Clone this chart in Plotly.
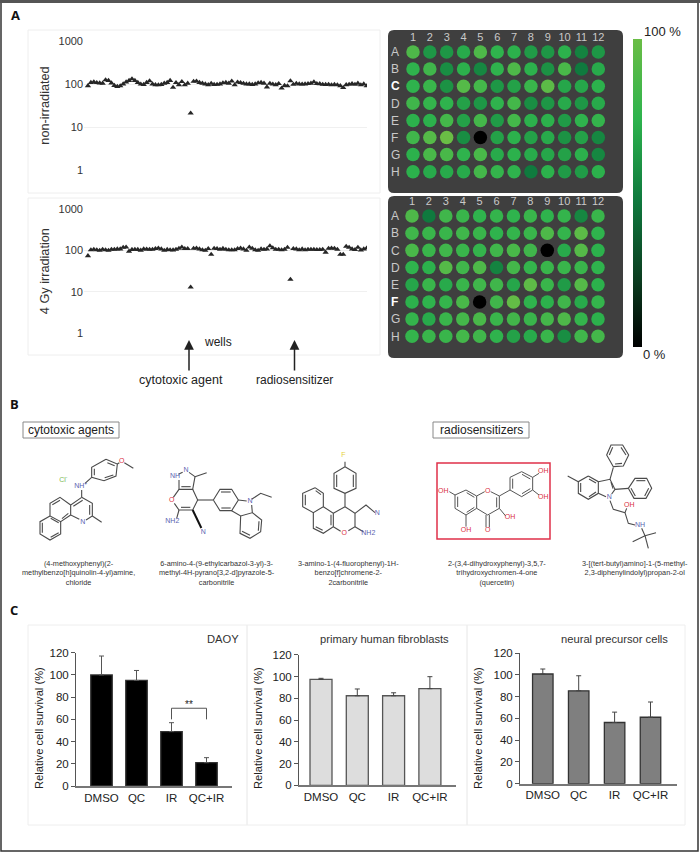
#!/usr/bin/env python3
# -*- coding: utf-8 -*-
"""Three-panel screening figure: 96-well scatter + plate maps, compounds, survival bars."""

import plotly.graph_objects as go

W, H = 700, 858
FONT = "Liberation Sans, Arial"

# ── panel A data ────────────────────────────────────────────────────────────
non_irradiated = [
    91, 108, 112, 107, 105, 104, 124, 120, 105, 92, 87, 90,
    100, 111, 120, 131, 120, 108, 99, 97, 108, 118, 100, 96,
    95, 97, 104, 108, 120, 83, 107, 96, 113, 95, 104, 21,
    115, 116, 108, 104, 100, 96, 103, 97, 98, 100, 106, 108,
    104, 116, 95, 110, 107, 103, 100, 100, 97, 100, 106, 108,
    104, 85, 103, 99, 96, 102, 80, 92, 90, 118, 98, 103,
    100, 99, 100, 102, 104, 112, 102, 101, 98, 97, 98, 95,
    97, 95, 91, 82, 96, 98, 102, 98, 104, 95, 100, 90,
]
irradiated_4gy = [
    74, 103, 106, 103, 100, 106, 103, 100, 106, 106, 108, 108,
    118, 120, 95, 105, 106, 105, 101, 108, 107, 106, 106, 110,
    113, 108, 100, 105, 103, 102, 106, 112, 120, 110, 110, 13,
    112, 113, 108, 103, 100, 110, 80, 112, 110, 106, 111, 106,
    103, 103, 103, 110, 113, 108, 100, 120, 112, 103, 100, 108,
    106, 108, 128, 115, 106, 106, 103, 106, 118, 20, 110, 108,
    103, 108, 103, 106, 106, 106, 104, 104, 106, 90, 112, 113,
    112, 106, 80, 80, 125, 118, 108, 104, 118, 102, 108, 113,
]
log_ticks = [1, 10, 100, 1000]

plate_cols = [str(c) for c in range(1, 13)]
plate_rows = ["A", "B", "C", "D", "E", "F", "G", "H"]
plate_no_ir = [
    [88, 61, 61, 70, 88, 75, 73, 63, 61, 73, 52, 61],
    [75, 82, 57, 73, 54, 75, 88, 73, 59, 86, 48, 70],
    [75, 79, 59, 91, 84, 61, 66, 79, 94, 68, 68, 73],
    [82, 77, 75, 66, 61, 75, 84, 57, 61, 70, 61, 70],
    [73, 73, 84, 66, 84, 63, 84, 73, 73, 63, 75, 77],
    [82, 91, 100, 57, 0, 66, 73, 66, 70, 59, 66, 54],
    [73, 86, 86, 75, 86, 70, 73, 70, 68, 66, 73, 54],
    [73, 70, 70, 70, 84, 77, 75, 48, 73, 63, 63, 73],
]
plate_4gy = [
    [88, 48, 82, 79, 75, 77, 75, 79, 75, 77, 54, 79],
    [82, 79, 79, 82, 79, 75, 77, 79, 88, 77, 94, 75],
    [86, 79, 82, 79, 77, 82, 86, 82, 0, 70, 91, 73],
    [75, 73, 91, 82, 88, 52, 84, 77, 79, 79, 79, 75],
    [68, 79, 70, 79, 82, 82, 68, 95, 79, 63, 91, 73],
    [73, 75, 77, 86, 0, 82, 97, 75, 73, 82, 70, 77],
    [77, 70, 79, 84, 86, 79, 83, 79, 84, 88, 77, 73],
    [77, 79, 79, 84, 82, 75, 66, 70, 79, 57, 82, 84],
]

# ── panel C data ────────────────────────────────────────────────────────────
treatments = ["DMSO", "QC", "IR", "QC+IR"]
daoy_survival = [100, 95, 49, 21]
daoy_err = [17, 9, 8, 4.5]
fibro_survival = [97.3, 82.3, 82.3, 88.8]
fibro_err = [1, 6.2, 2.7, 11]
npc_survival = [100.7, 85.3, 56.2, 61]
npc_err = [4.6, 13.8, 9.5, 14]
signif_x = [2, 2, 3, 3]
signif_y = [60, 70, 70, 60]

# ── panel B line drawings: polylines in pixels, split per compound ──────────
mol1 = [
    [(318, 208), (352, 222), (348, 258), (312, 272), (275, 262), (275, 232), (318, 208)],
    [(322, 218), (344, 227)], [(340, 255), (314, 263)], [(283, 256), (283, 236)],
    [(352, 222), (358, 218)], [(373, 218), (400, 235)], [(275, 262), (255, 280)],
    [(245, 300), (245, 322)],
    [(245, 322), (277, 340), (277, 378), (258, 390)], [(238, 388), (212, 375), (212, 345), (245, 322)],
    [(269, 345), (269, 374)], [(248, 331), (220, 349)],
    [(277, 378), (305, 397)],
    [(212, 345), (180, 322), (150, 340), (150, 378), (182, 395), (212, 375)],
    [(180, 331), (157, 344)], [(205, 370), (186, 386)],
    [(150, 378), (120, 395), (120, 432), (150, 450), (182, 432), (182, 395)],
    [(127, 398), (127, 428)], [(152, 442), (176, 428)], [(152, 385), (176, 398)],
]
mol2 = [
    [(537, 270), (537, 298), (578, 298), (585, 260), (567, 247)], [(548, 247), (535, 253)],
    [(544, 290), (572, 290)], [(585, 260), (620, 248)],
    [(537, 298), (520, 322)], [(578, 298), (593, 330), (578, 360), (537, 360), (523, 340)],
    [(571, 352), (543, 352)], [(537, 360), (530, 385)],
    [(593, 330), (640, 330)],
    [(640, 330), (660, 298), (695, 298), (715, 330), (695, 362), (660, 362), (640, 330)],
    [(663, 306), (692, 306)], [(664, 354), (692, 354)],
    [(715, 330), (740, 333)], [(755, 345), (757, 368), (722, 378), (695, 362)],
    [(755, 328), (782, 310), (815, 322)],
    [(757, 368), (785, 390), (782, 425), (750, 445), (720, 430), (722, 378)],
    [(777, 394), (775, 422)], [(750, 436), (726, 424)],
]
mol2_nitrile = [[(578, 360), (604, 414)]]
mol3 = [
    [(1035, 230), (1068, 250), (1068, 295), (1035, 310), (1002, 295), (1002, 250), (1035, 230)],
    [(1010, 254), (1010, 291)], [(1060, 254), (1060, 291)],
    [(1035, 215), (1035, 230)], [(1035, 310), (1035, 350)],
    [(1035, 350), (1000, 370)], [(1035, 350), (1065, 370), (1065, 410), (1045, 422)],
    [(1000, 410), (1022, 424)],
    [(945, 293), (970, 310), (970, 350), (940, 368), (908, 350), (908, 310), (945, 293)],
    [(916, 314), (916, 346)], [(947, 302), (963, 314)],
    [(970, 350), (1000, 370), (1000, 410), (970, 430), (940, 415), (940, 368)],
    [(993, 374), (993, 406)], [(968, 421), (947, 410)],
    [(1065, 370), (1098, 345), (1125, 368)], [(1065, 410), (1090, 425)],
]
mol4 = [
    [(328, 305), (345, 315), (378, 300), (410, 318), (410, 355), (378, 375), (345, 355), (345, 315)],
    [(353, 320), (353, 351)], [(380, 308), (403, 322)], [(380, 367), (403, 352)],
    [(378, 375), (378, 410)],
    [(410, 318), (434, 305)], [(452, 305), (478, 318), (478, 355), (443, 375), (410, 355)],
    [(470, 322), (470, 352)], [(438, 375), (438, 412)], [(448, 375), (448, 412)],
    [(478, 355), (497, 378)], [(478, 318), (510, 300)],
    [(510, 300), (510, 262), (545, 245), (578, 262), (578, 300), (545, 320), (510, 300)],
    [(518, 296), (518, 266)], [(546, 253), (571, 267)], [(571, 296), (546, 311)],
    [(578, 262), (597, 250)], [(578, 300), (597, 315)],
]
mol5 = [
    [(745, 258), (775, 275), (775, 310), (745, 328), (715, 310), (715, 275), (745, 258)],
    [(722, 279), (722, 306)], [(747, 267), (768, 279)], [(747, 320), (768, 306)],
    [(715, 275), (683, 258)],
    [(775, 275), (810, 268), (825, 298), (815, 312)], [(798, 320), (775, 310)], [(813, 276), (819, 296)],
    [(810, 268), (820, 232)],
    [(820, 230), (800, 195), (813, 165), (848, 165), (866, 195), (850, 228), (820, 230)],
    [(808, 195), (818, 172)], [(843, 172), (858, 195)], [(846, 220), (825, 222)],
    [(825, 298), (865, 295)],
    [(865, 295), (885, 265), (920, 265), (935, 295), (918, 325), (882, 325), (865, 295)],
    [(889, 272), (916, 272)], [(926, 295), (914, 318)], [(886, 318), (873, 295)],
    [(810, 332), (820, 358), (855, 368), (865, 400), (885, 405)],
    [(855, 368), (860, 355)], [(905, 415), (915, 437)],
    [(948, 428), (915, 437), (878, 455)], [(915, 437), (925, 475)],
]
# text labels in the drawings: (x, y, text, colour, x offset, y offset)
mol_labels = [
    (190, 272, "Cl<sup>-</sup>", "#7cb957", 0, 390), (242, 290, "NH<sup>+</sup>", "#5b5fb0", 0, 390),
    (248, 397, "N", "#5b5fb0", 0, 390), (365, 215, "O", "#d9303f", 0, 390),
    (525, 260, "NH", "#5b5fb0", 0, 390), (558, 240, "N", "#5b5fb0", 0, 390),
    (515, 330, "O", "#d9303f", 0, 390), (517, 393, "NH2", "#5b5fb0", 0, 390),
    (610, 427, "N", "#5b5fb0", 0, 390), (750, 335, "N", "#5b5fb0", 0, 390),
    (1030, 195, "F", "#e6d23a", 0, 390), (1033, 430, "O", "#d9303f", 0, 390),
    (1132, 370, "N", "#5b5fb0", 0, 390), (1105, 430, "NH2", "#5b5fb0", 0, 390),
    (310, 303, "OH", "#d9303f", 340, 390), (378, 420, "OH", "#d9303f", 340, 390),
    (443, 303, "O", "#d9303f", 340, 390), (443, 422, "O", "#d9303f", 340, 390),
    (510, 381, "OH", "#d9303f", 340, 390), (610, 245, "OH", "#d9303f", 340, 390),
    (610, 322, "OH", "#d9303f", 340, 390),
    (808, 322, "N", "#5b5fb0", 340, 390), (868, 345, "OH", "#d9303f", 340, 390),
    (900, 405, "NH", "#5b5fb0", 340, 390),
]


def fx(px):
    return px / W


def fy(px):
    return 1 - px / H


def dom_x(p0, p1):
    return [fx(p0), fx(p1)]


def dom_y(p_top, p_bottom):
    return [fy(p_bottom), fy(p_top)]


def label(x, y, text, size=12, color="#222222", **kw):
    kw.setdefault("yanchor", "middle")
    return dict(x=fx(x), y=fy(y), xref="paper", yref="paper", text=text, showarrow=False, xanchor="center",
                font=dict(size=size, color=color, family=kw.pop("family", FONT)), **kw)


def frame(x0, y0, x1, y1, color="#eeeeee", width=1):
    return dict(type="rect", xref="paper", yref="paper", x0=fx(x0), x1=fx(x1), y0=fy(y0), y1=fy(y1),
                line=dict(color=color, width=width), layer="below")


def rounded(x0, y0, x1, y1, r=6):
    kx, ky = r / W, r / H
    a, b, c, d = fx(x0), fx(x1), fy(y0), fy(y1)
    path = (f"M {a + kx} {c} L {b - kx} {c} Q {b} {c} {b} {c - ky} L {b} {d + ky} Q {b} {d} {b - kx} {d} "
            f"L {a + kx} {d} Q {a} {d} {a} {d + ky} L {a} {c - ky} Q {a} {c} {a + kx} {c} Z")
    return dict(type="path", xref="paper", yref="paper", path=path,
                fillcolor="#3f3f3f", line=dict(width=0), layer="below")


def polylines(mols, dx, dy):
    xs, ys = [], []
    for line in mols:
        for px, py in line:
            xs.append(px / 3 + dx)
            ys.append(py / 3 + dy)
        xs.append(None)
        ys.append(None)
    return xs, ys


fig = go.Figure()
layout_axes = {}

# ── A: well scatter panels ──────────────────────────────────────────────────
scatter_panels = [
    (non_irradiated, "non-irradiated", 41, 170, "", ""),
    (irradiated_4gy, "4 Gy irradiation", 209, 333.3, "2", "2"),
]
for values, title, top, bottom, xn, yn in scatter_panels:
    fig.add_trace(go.Scatter(
        x=list(range(len(values))), y=values, mode="markers",
        marker=dict(symbol="triangle-up", size=5.5, color="#262626"),
        xaxis=f"x{xn}", yaxis=f"y{yn}", hoverinfo="y",
    ))
    layout_axes[f"xaxis{xn}"] = dict(domain=dom_x(84, 367), range=[-1.35, 95.1], visible=False,
                                     anchor=f"y{yn}")
    layout_axes[f"yaxis{yn}"] = dict(
        domain=dom_y(top, bottom), type="log", range=[0, 3], tickvals=log_ticks,
        ticktext=[str(t) for t in log_ticks], gridcolor="#f0f0f0", gridwidth=1,
        zeroline=False, showline=False, ticks="", anchor=f"x{xn}",
        tickfont=dict(size=11, color="#333333", family=FONT),
        title=dict(text=title, font=dict(size=12.7, color="#333333", family=FONT), standoff=6),
    )

# ── A: plate maps ───────────────────────────────────────────────────────────
plate_panels = [
    (plate_no_ir, 30, 193, 413, 598.3, 52, 171.7, "3", "C", 0),
    (plate_4gy, 196, 358, 412, 598, 216, 336.3, "4", "F", -2),
]
for plate, top, bottom, c1, c12, r1, r8, an, bright, num_off in plate_panels:
    xs = [c + 1 for row in plate for c in range(len(row))]
    ys = [r + 1 for r, row in enumerate(plate) for _ in row]
    cs = [v for row in plate for v in row]
    fig.add_trace(go.Scatter(
        x=xs, y=ys, mode="markers", xaxis=f"x{an}", yaxis=f"y{an}", hoverinfo="text",
        text=[f"{v} %" for v in cs],
        marker=dict(size=13.5, color=cs, coloraxis="coloraxis", line=dict(width=0)),
    ))
    sx = (c12 - c1) / 11
    sy = (r8 - r1) / 7
    layout_axes[f"xaxis{an}"] = dict(
        domain=dom_x(388, 623), range=[1 - (c1 - 388) / sx, 12 + (623 - c12) / sx],
        tickvals=list(range(1, 13)), ticktext=plate_cols, side="top", ticklabelposition="inside",
        ticklabelstandoff=num_off,
        showgrid=False, zeroline=False, showline=False, ticks="", anchor=f"y{an}",
        tickfont=dict(size=11, color="#c9c9c9", family=FONT),
    )
    layout_axes[f"yaxis{an}"] = dict(
        domain=dom_y(top, bottom), range=[8 + (bottom - r8) / sy, 1 - (r1 - top) / sy],
        tickvals=list(range(1, 9)),
        ticktext=[f'<span style="color:white"><b>{r}</b></span>' if r == bright else r for r in plate_rows],
        ticklabelposition="inside", showgrid=False, zeroline=False, showline=False, ticks="",
        anchor=f"x{an}", tickfont=dict(size=12, color="#c9c9c9", family=FONT),
    )

# ── C: survival bars ────────────────────────────────────────────────────────
bar_panels = [
    (daoy_survival, daoy_err, "#000000", "#333333", "#555555", 76, 232, 101.5, 35, 652.7, 786, 21.5, "6"),
    (fibro_survival, fibro_err, "#dddddd", "#555555", "#444444", 299, 456, 321, 36.3, 654.7, 785.3, 22, "7"),
    (npc_survival, npc_err, "#7f7f7f", "#333333", "#444444", 520, 676.7, 542.8, 35.9, 653, 783.7, 20.5, "8"),
]
for vals, errs, fill, edge, err_c, x0, x1, c0, step, top, bottom, bw, an in bar_panels:
    fig.add_trace(go.Bar(
        x=list(range(len(treatments))), y=vals, width=bw / step,
        marker=dict(color=fill, line=dict(color=edge, width=1.3)),
        error_y=dict(type="data", array=errs, symmetric=False, arrayminus=[0] * len(errs),
                     color=err_c, thickness=1, width=2.5),
        xaxis=f"x{an}", yaxis=f"y{an}",
    ))
    layout_axes[f"xaxis{an}"] = dict(
        domain=dom_x(x0, x1), range=[(x0 - c0) / step, (x1 - c0) / step],
        tickvals=list(range(len(treatments))), ticktext=treatments, showgrid=False, zeroline=False,
        showline=True, linecolor="#777777", linewidth=1.5, ticks="", anchor=f"y{an}",
        tickfont=dict(size=11.5, color="#222222", family=FONT),
    )
    layout_axes[f"yaxis{an}"] = dict(
        domain=dom_y(top, bottom), range=[0, 120], tickvals=[0, 20, 40, 60, 80, 100, 120],
        showgrid=False, zeroline=False, showline=True, linecolor="#555555", linewidth=1,
        ticks="outside", ticklen=4, tickcolor="#555555", anchor=f"x{an}",
        tickfont=dict(size=11.5, color="#222222", family=FONT),
    )

fig.add_trace(go.Scatter(x=signif_x, y=signif_y, mode="lines", line=dict(color="#555555", width=1),
                         xaxis="x6", yaxis="y6", hoverinfo="skip"))

# ── B: line drawings on a full-page pixel overlay ───────────────────────────
layout_axes["xaxis9"] = dict(domain=[0, 1], range=[0, W], visible=False, anchor="y9")
layout_axes["yaxis9"] = dict(domain=[0, 1], range=[H, 0], visible=False, anchor="x9")
bond_xs, bond_ys = [], []
for mol, dx in ((mol1, 0), (mol2, 0), (mol3, 0), (mol5, 340)):
    xs, ys = polylines(mol, dx, 390)
    bond_xs += xs
    bond_ys += ys
fig.add_trace(go.Scatter(x=bond_xs, y=bond_ys, mode="lines", line=dict(color="#4a4a4a", width=1.1),
                         xaxis="x9", yaxis="y9", hoverinfo="skip"))
xs, ys = polylines(mol4, 340, 390)
fig.add_trace(go.Scatter(x=xs, y=ys, mode="lines", line=dict(color="#555555", width=1),
                         xaxis="x9", yaxis="y9", hoverinfo="skip"))
xs, ys = polylines(mol2_nitrile, 0, 390)
fig.add_trace(go.Scatter(x=xs, y=ys, mode="lines", line=dict(color="#111111", width=2),
                         xaxis="x9", yaxis="y9", hoverinfo="skip"))
fig.add_trace(go.Scatter(
    x=[m[0] / 3 + m[4] for m in mol_labels], y=[m[1] / 3 + m[5] for m in mol_labels],
    text=[m[2] for m in mol_labels], mode="text",
    textfont=dict(size=7, color=[m[3] for m in mol_labels], family=FONT),
    xaxis="x9", yaxis="y9", hoverinfo="skip",
))

# ── page furniture ──────────────────────────────────────────────────────────
shapes = [
    dict(type="rect", xref="paper", yref="paper", x0=fx(1), x1=fx(698), y0=fy(1), y1=fy(851),
         line=dict(color="#333333", width=1.5)),
    dict(type="rect", xref="paper", yref="paper", x0=0, x1=1, y0=fy(3), y1=1,
         fillcolor="#555555", line=dict(width=0)),
    frame(28, 30, 380, 193), frame(28, 198, 380, 355),
    rounded(388, 30, 623, 193), rounded(388, 196, 623, 358),
    frame(23, 422, 119, 438, "#888888"), frame(433, 422, 529, 438, "#888888"),
    frame(437, 463, 550, 539, "#e0304a", 1.5),
    frame(28, 625, 247, 825), frame(247, 625, 467, 825), frame(467, 625, 685, 825),
]

OPEN = "Open Sans, Arial"
annotations = [
    label(15, 15, "<b>A</b>", 13, "#111111", family=OPEN),
    label(14, 404, "<b>B</b>", 13, "#111111", family=OPEN),
    label(14, 610, "<b>C</b>", 13, "#111111", family=OPEN),
    label(218, 342, "wells", 12),
    label(181, 380, "cytotoxic agent", 12.5),
    label(294, 380, "radiosensitizer", 12),
    label(662, 31.5, "100 %", 13),
    label(654, 355, "0 %", 13),
    label(71, 430, "cytotoxic agents", 12),
    label(481, 430, "radiosensitizers", 12),
    label(223, 639, "DAOY", 11.2, "#333333"),
    label(384, 639, "primary human fibroblasts", 11.2, "#333333"),
    label(614, 639, "neural precursor cells", 11.2, "#333333"),
    label(189, 704, "**", 10),
]
# y titles of the bar panels sit below the axis centre in the figure
for title_x in (39, 258, 478):
    annotations.append(label(title_x, 728, "Relative cell survival (%)", 11.2, textangle=-90))
for x_tip in (189, 294.5):
    annotations.append(dict(x=fx(x_tip), y=fy(340), xref="paper", yref="paper", ax=0, ay=32,
                            axref="pixel", ayref="pixel", text="", showarrow=True, arrowhead=2,
                            arrowsize=1.3, arrowwidth=1.5, arrowcolor="#222222"))

compound_names = [
    (78, 562, "(4-methoxyphenyl)(2-<br>methylbenzo[h]quinolin-4-yl)amine,<br>chloride"),
    (217, 562, "6-amino-4-(9-ethylcarbazol-3-yl)-3-<br>methyl-4H-pyrano[3,2-d]pyrazole-5-<br>carbonitrile"),
    (348, 562, "3-amino-1-(4-fluorophenyl)-1H-<br>benzo[f]chromene-2-<br>2carbonitrile"),
    (497, 562, "2-(3,4-dihydroxyphenyl)-3,5,7-<br>trihydroxychromen-4-one<br>(quercetin)"),
    (635, 562, "3-[(tert-butyl)amino]-1-(5-methyl-<br>2,3-diphenylindolyl)propan-2-ol"),
]
for nx, ny, name in compound_names:
    annotations.append(label(nx, ny - 5, name, 7.3, "#333333", yanchor="top", align="center"))

fig.update_layout(
    width=W, height=H, margin=dict(l=0, r=0, t=0, b=0, autoexpand=False), showlegend=False,
    paper_bgcolor="white", plot_bgcolor="rgba(0,0,0,0)", barmode="overlay",
    font=dict(family=FONT), shapes=shapes, annotations=annotations,
    coloraxis=dict(
        cmin=0, cmax=100,
        colorscale=[[0, "#000000"], [0.22, "#0b3d20"], [0.48, "#0f7a3e"], [0.74, "#2db34d"], [1, "#6abd45"]],
        colorbar=dict(x=fx(633.3), xanchor="left", y=fy(39.3), yanchor="top", thickness=9.4, thicknessmode="pixels",
                      len=308, lenmode="pixels", outlinewidth=0, showticklabels=False, ticks="", xpad=0, ypad=0),
    ),
    **layout_axes,
)
fig.update_xaxes(automargin=False)
fig.update_yaxes(automargin=False)

fig.write_html("out.html", config={"displayModeBar": False}, post_script="document.body.style.margin='0';")
